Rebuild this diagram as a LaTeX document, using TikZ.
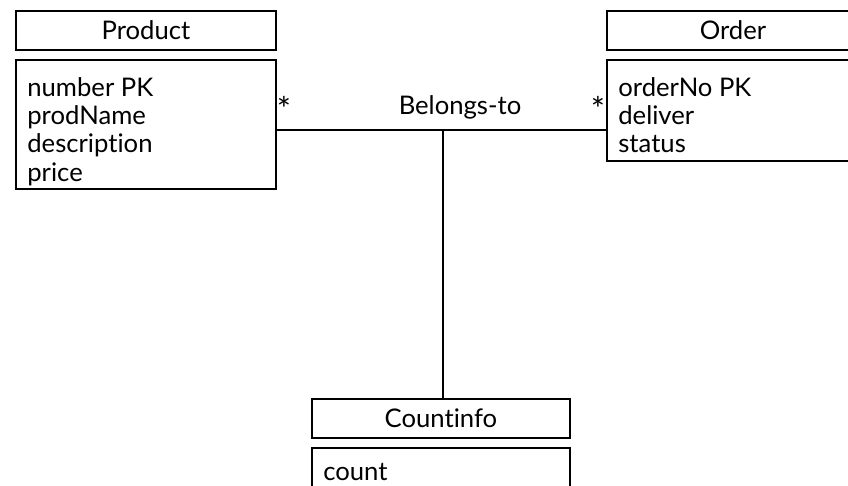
\documentclass[tikz,border=0pt]{standalone}
\usepackage{fontspec}
\setmainfont{Lato}[Ligatures=NoCommon]
\usetikzlibrary{positioning,calc}
\tikzset{
  classhead/.style={draw,line width=1.1pt,minimum width=5.2cm,
                    minimum height=0.78cm,inner sep=0pt},
  classbody/.style={draw,line width=1.1pt,minimum width=5.2cm,inner sep=0pt},
  attrs/.style={inner sep=0pt,align=left,anchor=north west},
  assoc/.style={line width=1.1pt},
  mult/.style={font=\fontsize{19pt}{19pt}\selectfont}
}

\begin{document}
\begin{tikzpicture}[x=0.02cm,y=-0.02cm,
                    font=\fontsize{14.6pt}{16.1pt}\selectfont]
\useasboundingbox (0,0) rectangle (848,485);

% ---------------- Product ----------------
\node[classhead,anchor=north west] (prodhead) at (15,10) {Product};
\node[classbody,minimum height=2.58cm,below=0.16cm of prodhead] (prodbody) {};
\node[attrs] (prodattrs) at ($(prodbody.north west)+(12,18)$)
  {number PK\\ prodName\\ description\\ price};

% ---------------- Order ----------------
\node[classhead,anchor=north west,minimum width=5.04cm] (orderhead) at (606,10) {Order};
\node[classbody,minimum width=5.04cm,minimum height=2.02cm,
      below=0.16cm of orderhead] (orderbody) {};
\node[attrs] (orderattrs) at ($(orderbody.north west)+(12,18)$)
  {orderNo PK\\ deliver\\ status};

% ---------------- Countinfo ----------------
\node[classhead,anchor=north west,minimum width=5.16cm] (counthead) at (311,398) {Countinfo};
\node[classbody,minimum width=5.16cm,minimum height=1.2cm,
      below=0.16cm of counthead] (countbody) {};
\node[attrs] (countattrs) at ($(countbody.north west)+(12,16)$) {count};

% association with its class
\coordinate (mid) at (443,130);
\draw[assoc] (prodbody.east |- mid) -- (orderbody.west |- mid);
\draw[assoc] (mid) -- (counthead.north -| mid);
\node (belongs) at (460,107) {Belongs-to};
\node[mult] (multprod) at (284,109) {*};
\node[mult] (multorder) at (598,109) {*};

\end{tikzpicture}
\end{document}
